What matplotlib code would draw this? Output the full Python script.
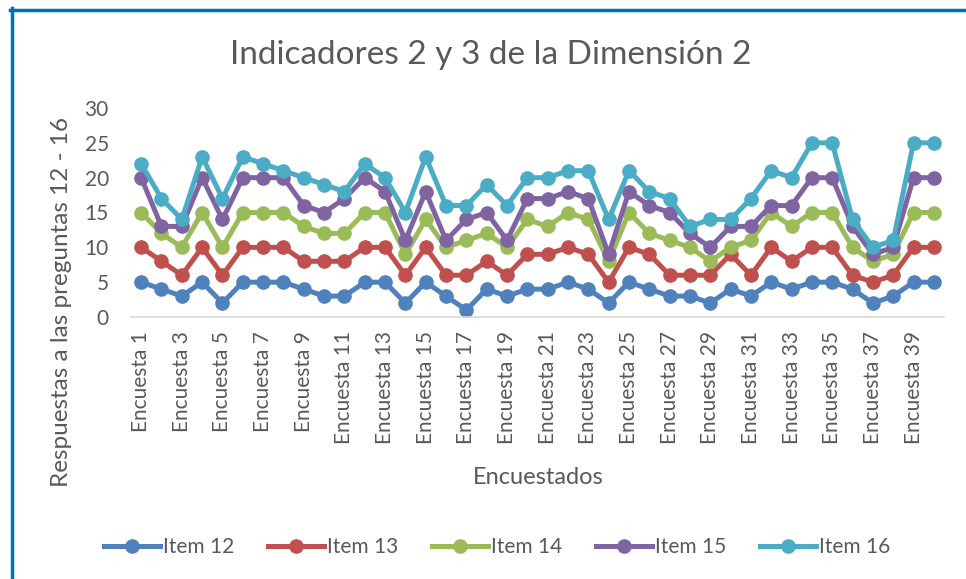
import matplotlib.pyplot as plt
from matplotlib.lines import Line2D

plt.rcParams['font.family'] = ['Lato', 'DejaVu Sans']

encuestas = ['Encuesta %d' % i for i in range(1, 41)]

item12 = [5, 4, 3, 5, 2, 5, 5, 5, 4, 3, 3, 5, 5, 2, 5, 3, 1, 4, 3, 4,
          4, 5, 4, 2, 5, 4, 3, 3, 2, 4, 3, 5, 4, 5, 5, 4, 2, 3, 5, 5]
item13 = [10, 8, 6, 10, 6, 10, 10, 10, 8, 8, 8, 10, 10, 6, 10, 6, 6, 8, 6, 9,
          9, 10, 9, 5, 10, 9, 6, 6, 6, 9, 6, 10, 8, 10, 10, 6, 5, 6, 10, 10]
item14 = [15, 12, 10, 15, 10, 15, 15, 15, 13, 12, 12, 15, 15, 9, 14, 10, 11, 12, 10, 14,
          13, 15, 14, 8, 15, 12, 11, 10, 8, 10, 11, 15, 13, 15, 15, 10, 8, 9, 15, 15]
item15 = [20, 13, 13, 20, 14, 20, 20, 20, 16, 15, 17, 20, 18, 11, 18, 11, 14, 15, 11, 17,
          17, 18, 17, 9, 18, 16, 15, 12, 10, 13, 13, 16, 16, 20, 20, 13, 9, 10, 20, 20]
item16 = [22, 17, 14, 23, 17, 23, 22, 21, 20, 19, 18, 22, 20, 15, 23, 16, 16, 19, 16, 20,
          20, 21, 21, 14, 21, 18, 17, 13, 14, 14, 17, 21, 20, 25, 25, 14, 10, 11, 25, 25]

series = [('Item 12', item12, '#4F81BD'),
          ('Item 13', item13, '#C0504D'),
          ('Item 14', item14, '#9BBB59'),
          ('Item 15', item15, '#8064A2'),
          ('Item 16', item16, '#4BACC6')]

W, H = 966, 579
fig = plt.figure(figsize=(W / 100, H / 100), dpi=100)
fig.patch.set_facecolor('white')

# ejes en pixeles -> fraccion de figura
left, right, top, bottom = 131, 944, 108, 317
ax = fig.add_axes([left / W, 1 - bottom / H, (right - left) / W, (bottom - top) / H])

x = list(range(1, 41))
for name, vals, col in series:
    ax.plot(x, vals, color=col, lw=3.6, marker='o', ms=9.5, label=name,
            solid_capstyle='round')

ax.set_xlim(0.5, 40.5)
ax.set_ylim(0, 30)
ax.set_yticks(range(0, 31, 5))
ax.set_xticks(x[::2])
ax.set_xticklabels(encuestas[::2], rotation=90)
ax.tick_params(axis='both', length=0, labelsize=15, colors='#595959')
ax.tick_params(axis='x', pad=10)
ax.tick_params(axis='y', pad=16)
for s in ['top', 'right', 'left']:
    ax.spines[s].set_visible(False)
ax.spines['bottom'].set_color('#D9D9D9')
ax.spines['bottom'].set_linewidth(1.2)

fig.text(491 / W, 1 - 55 / H, 'Indicadores 2 y 3 de la Dimensión 2',
         ha='center', va='center', fontsize=24, color='#595959')
fig.text(538 / W, 1 - 478 / H, 'Encuestados', ha='center', va='center',
         fontsize=17, color='#595959')
fig.text(62 / W, 1 - 302 / H, 'Respuestas a las preguntas 12 - 16', ha='center',
         va='center', rotation=90, fontsize=17.5, color='#595959')

handles = [Line2D([0], [0], color=c, lw=3.6, marker='o', ms=9.5) for _, _, c in series]
leg = fig.legend(handles, [n for n, _, _ in series], loc='center', ncol=5,
                 bbox_to_anchor=(497 / W, 1 - 547 / H), frameon=False,
                 fontsize=15, handlelength=2.7, columnspacing=1.6, handletextpad=0.15)
for t in leg.get_texts():
    t.set_color('#595959')

# marco azul
fig.add_artist(Line2D([11.5 / W, 11.5 / W], [0, 1 - 8 / H], color='#0070C0',
                      lw=2.5, transform=fig.transFigure))
fig.add_artist(Line2D([10 / W, 1], [1 - 9.5 / H, 1 - 9.5 / H], color='#0070C0',
                      lw=2.5, transform=fig.transFigure))

fig.savefig('out.png', dpi=100)
